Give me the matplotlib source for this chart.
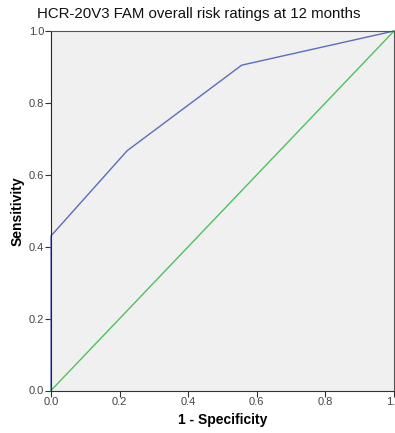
import matplotlib
matplotlib.use("Agg")
import matplotlib.pyplot as plt

plt.rcParams['font.family'] = ['Liberation Sans', 'DejaVu Sans']

# ROC curve
fpr = [0.0, 0.0, 0.222, 0.556, 1.0]
tpr = [0.0, 0.43, 0.667, 0.905, 1.0]
ref_line = [0.0, 1.0]
ticks = [0.0, 0.2, 0.4, 0.6, 0.8, 1.0]
tick_labels = ['0.0', '0.2', '0.4', '0.6', '0.8', '1.0']

fig = plt.figure(figsize=(3.95, 4.33), dpi=100)
ax = fig.add_axes([51 / 395, 1 - 390.5 / 433, 343 / 395, 359.5 / 433])
ax.set_facecolor('#f0f0f0')

ax.plot(fpr, tpr, color='#5b6cbd', lw=1.0, clip_on=False)
ax.plot(ref_line, ref_line, color='#4cc35a', lw=1.0, clip_on=False)

ax.set_xlim(0, 1)
ax.set_ylim(0, 1)
ax.set_xticks(ticks)
ax.set_xticklabels(tick_labels)
ax.set_yticks(ticks)
ax.set_yticklabels(tick_labels)
ax.tick_params(labelsize=8, labelcolor='#444444', length=4, width=0.8, color='#333333', pad=1)
for s in ax.spines.values():
    s.set_color('#555555')
    s.set_linewidth(0.8)
ax.spines['left'].set_color('#222244')
ax.spines['bottom'].set_color('#333333')

ax.set_xlabel('1 - Specificity', fontsize=10, fontweight='bold', labelpad=4)
ax.set_ylabel('Sensitivity', fontsize=10, fontweight='bold', labelpad=3)
fig.text(37 / 395, 1 - 14 / 433, 'HCR-20V3 FAM overall risk ratings at 12 months',
         fontsize=10.8, ha='left', va='center', color='#111111')

fig.savefig('out.png', dpi=100)
